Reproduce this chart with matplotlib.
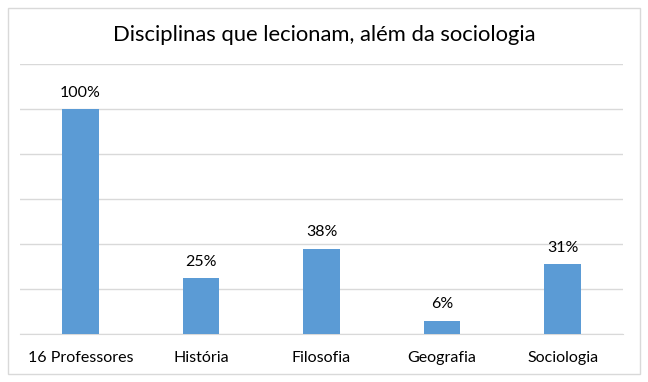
import matplotlib.pyplot as plt
from matplotlib.patches import Rectangle

categories = ['16 Professores', 'História', 'Filosofia', 'Geografia', 'Sociologia']
values = [100, 25, 38, 6, 31]
labels = ['100%', '25%', '38%', '6%', '31%']

plt.rcParams['font.family'] = ['Lato', 'DejaVu Sans']

fig = plt.figure(figsize=(6.48, 3.82), dpi=100)
ax = fig.add_axes([20/648, 1 - 334/382, 603/648, 270/382])

x = range(len(categories))
ax.bar(x, values, width=0.305, color='#5b9bd5', zorder=3)
for i, v in enumerate(values):
    ax.text(i, v + 4, labels[i], ha='center', va='bottom', fontsize=11.5)

ax.set_xlim(-0.5, len(categories) - 0.5)
ax.set_ylim(0, 120)
ax.set_yticks(range(0, 121, 20))
ax.yaxis.grid(True, color='#d9d9d9', linewidth=1)
ax.set_yticklabels([])
ax.tick_params(axis='y', length=0)
ax.set_xticks(list(x))
ax.set_xticklabels(categories, fontsize=11.5)
ax.tick_params(axis='x', length=0, pad=12)
for s in ['top', 'right', 'left']:
    ax.spines[s].set_visible(False)
ax.spines['bottom'].set_color('#d9d9d9')

fig.text(0.5, 1 - 35/382, 'Disciplinas que lecionam, além da sociologia',
         ha='center', va='center', fontsize=15.8)

fig.patches.append(Rectangle((8/648, 8/382), 632/648, 366/382, transform=fig.transFigure,
                             fill=False, edgecolor='#d9d9d9', linewidth=1))

fig.savefig('out.png', dpi=100)
